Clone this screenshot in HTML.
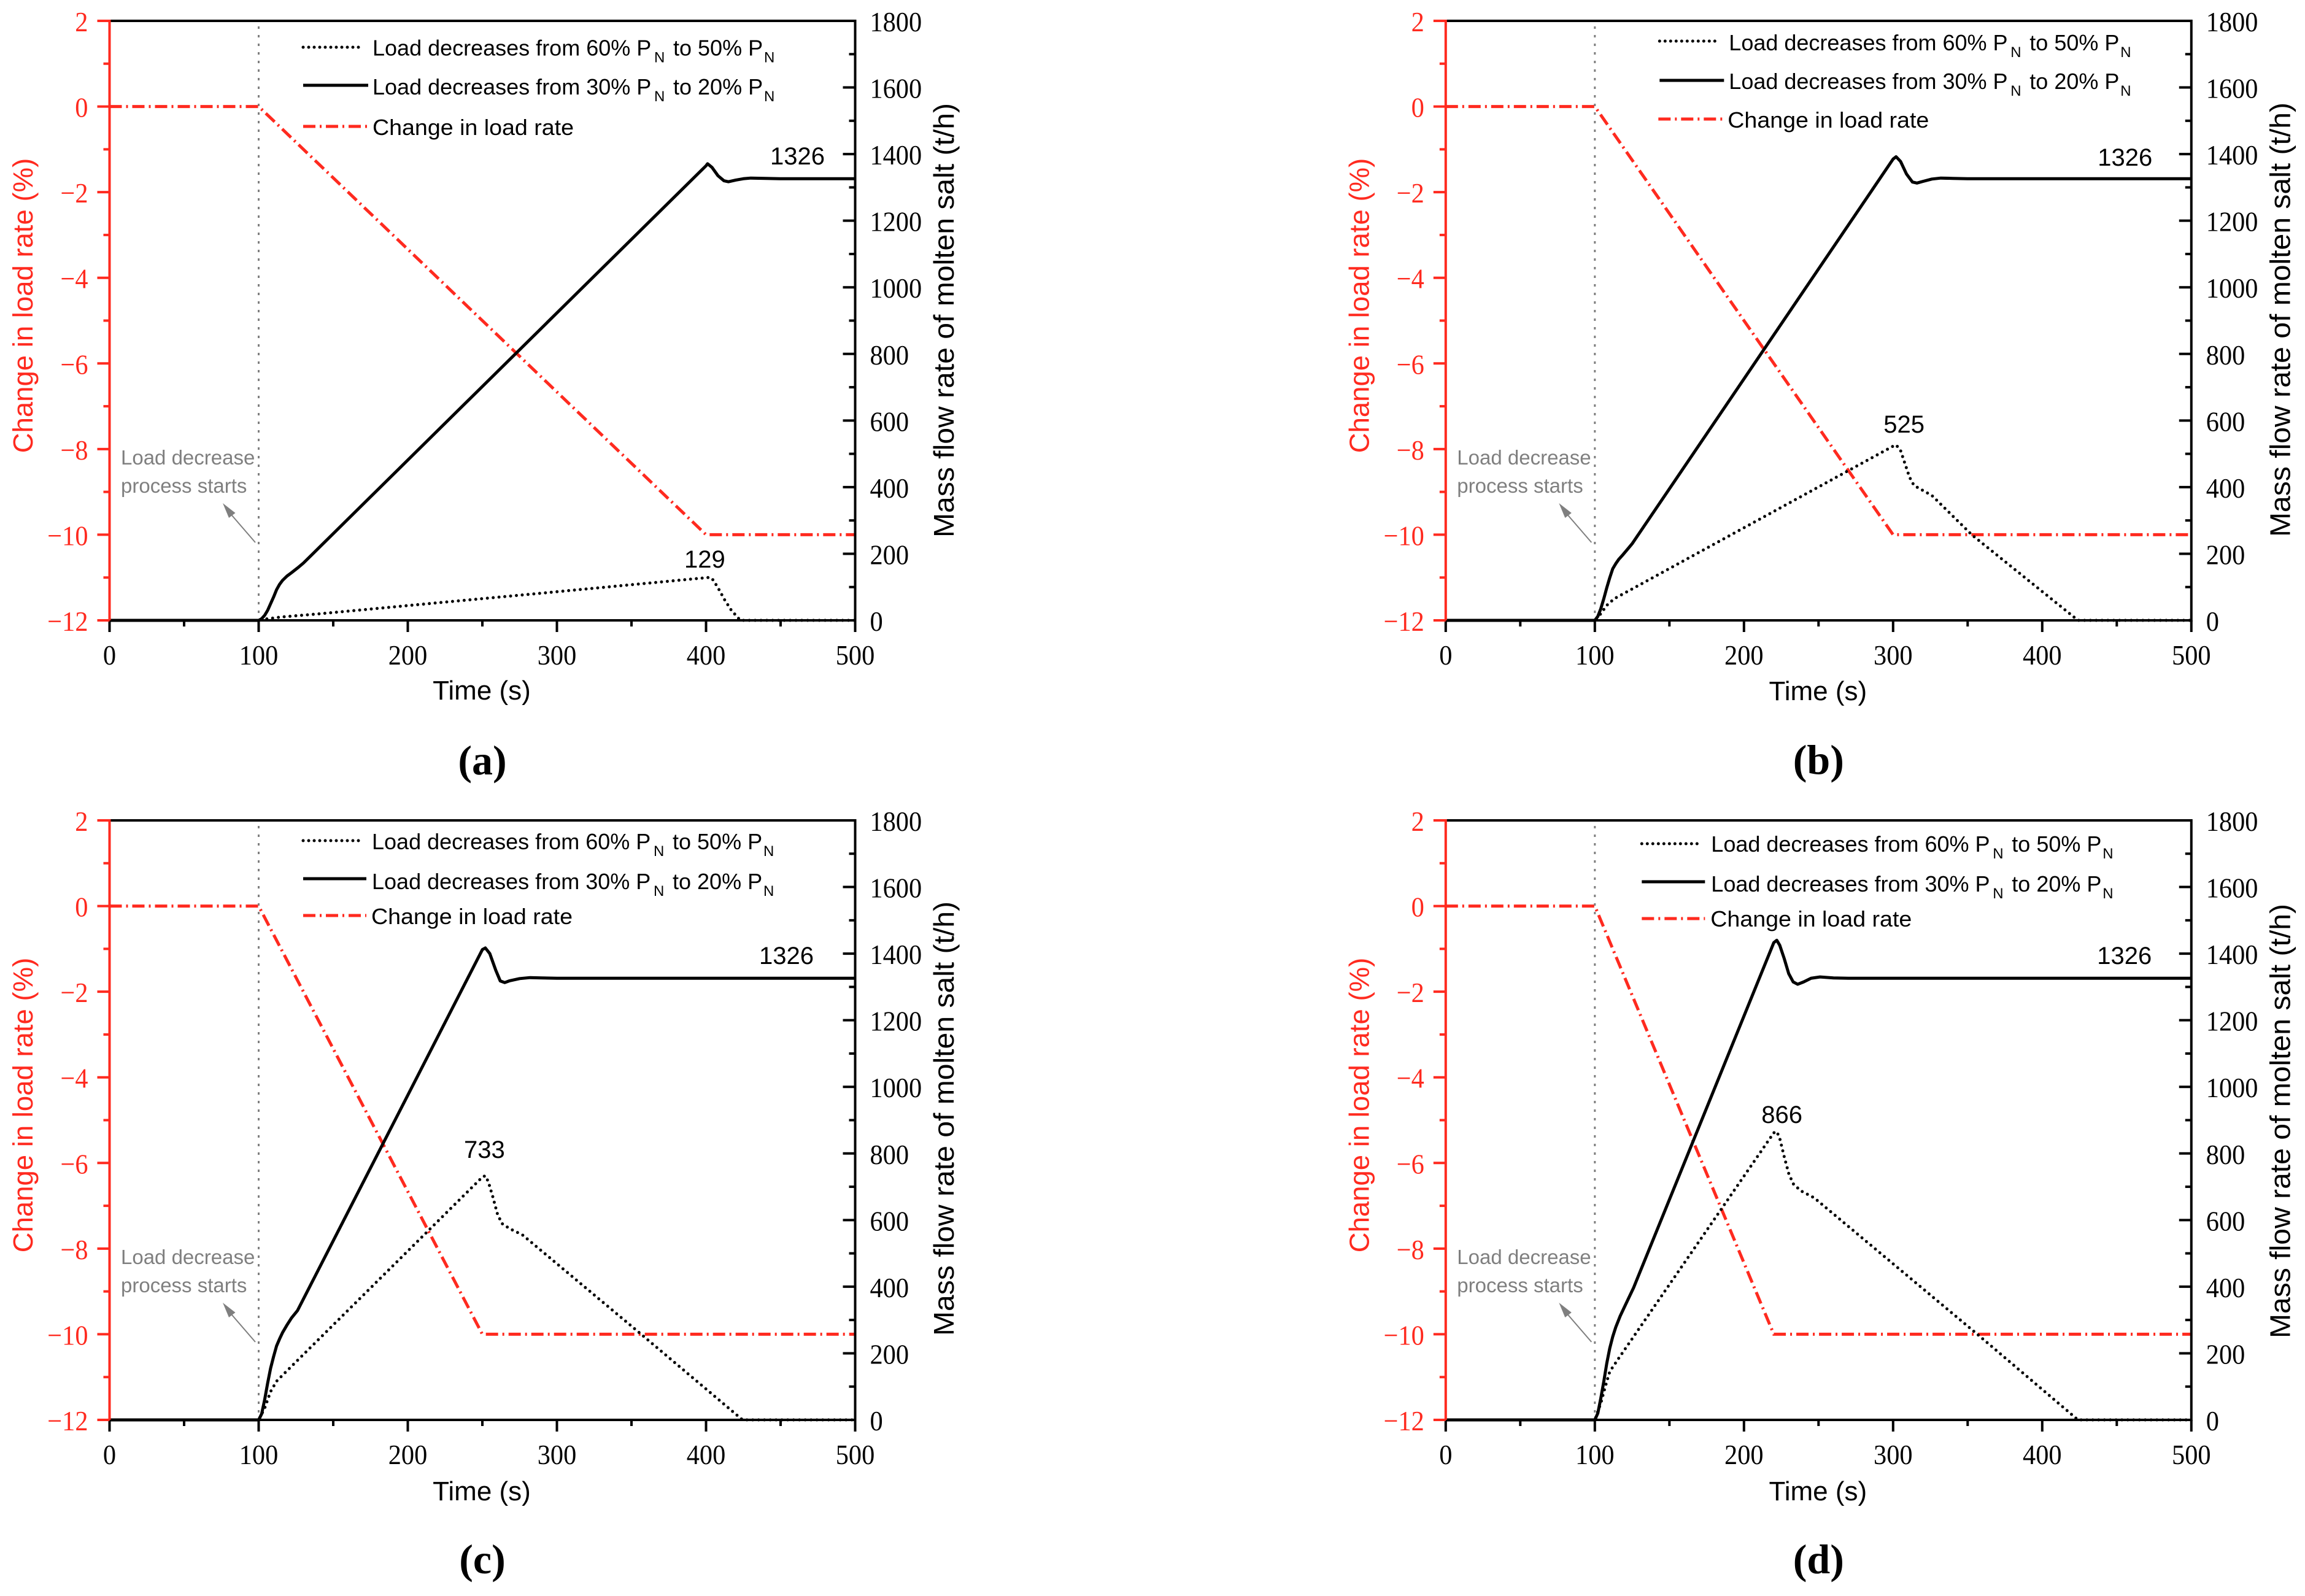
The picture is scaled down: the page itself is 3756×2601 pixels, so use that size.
<!DOCTYPE html>
<html lang="en">
<head>
<meta charset="utf-8">
<title>Load decrease charts</title>
<style>
html,body{margin:0;padding:0;background:#fff;width:3756px;height:2601px;overflow:hidden}
svg{display:block}
.leg{font:36px "Liberation Sans",sans-serif;fill:#000}
.sub{font-size:24px}
.val{font:40px "Liberation Sans",sans-serif;fill:#000}
.note{font:33px "Liberation Sans",sans-serif;fill:#7f7f7f}
.xt{font:44px "Liberation Sans",sans-serif;fill:#000;text-anchor:middle}
.yl{font:45.5px "Liberation Sans",sans-serif;fill:#ff2a1f;text-anchor:middle}
.yr{font:46px "Liberation Sans",sans-serif;fill:#000;text-anchor:middle}
.cap{font:bold 68px "Liberation Serif",serif;fill:#000;text-anchor:middle}
.tick{font:46px "Liberation Serif",serif}
</style>
</head>
<body>
<svg id="figure" xmlns="http://www.w3.org/2000/svg" width="3756" height="2601" viewBox="0 0 3756 2601">
<rect width="3756" height="2601" fill="#fff"/>

<g id="panel-a" transform="translate(0,0)">
  <g id="plot-a"></g>
  <line x1="494" x2="593" y1="77" y2="77" stroke="#000" stroke-width="5" stroke-linecap="round" stroke-dasharray="0 9"/>
  <line x1="494" x2="600" y1="139" y2="139" stroke="#000" stroke-width="5"/>
  <line x1="494" x2="600" y1="206" y2="206" stroke="#ff2a1f" stroke-width="5" stroke-dasharray="20 7 3 7"/>
  <g transform="translate(607,90.7)"><text class="leg"><tspan>Load decreases from 60% P</tspan><tspan class="sub" x="459" dy="11">N</tspan><tspan x="490" dy="-11">to 50% P</tspan><tspan class="sub" x="638" dy="11">N</tspan></text></g>
  <g transform="translate(607,154)"><text class="leg"><tspan>Load decreases from 30% P</tspan><tspan class="sub" x="459" dy="11">N</tspan><tspan x="490" dy="-11">to 20% P</tspan><tspan class="sub" x="638" dy="11">N</tspan></text></g>
  <text class="leg" x="607" y="220" textLength="328" lengthAdjust="spacingAndGlyphs">Change in load rate</text>
  <text class="val" x="1255" y="268">1326</text>
  <text class="val" x="1115" y="925">129</text>
  <text class="note" x="197" y="757">Load decrease</text>
  <text class="note" x="197" y="803">process starts</text>
  <line x1="416" y1="884" x2="378" y2="840" stroke="#7f7f7f" stroke-width="2"/>
  <polygon points="363,820 373,844 383.5,836" fill="#7f7f7f"/>
  <text class="xt" x="785" y="1140">Time (s)</text>
  <text class="yl" transform="translate(53,498) rotate(-90)">Change in load rate (%)</text>
  <text class="yr" textLength="708" lengthAdjust="spacingAndGlyphs" transform="translate(1554,522) rotate(-90)">Mass flow rate of molten salt (t/h)</text>
  <text class="cap" x="786" y="1262">(a)</text>
</g>

<g id="panel-b" transform="translate(2177.3,0)">
  <g id="plot-b"></g>
  <line x1="527" x2="626" y1="67" y2="67" stroke="#000" stroke-width="5" stroke-linecap="round" stroke-dasharray="0 9"/>
  <line x1="527" x2="632" y1="131" y2="131" stroke="#000" stroke-width="5"/>
  <line x1="525" x2="630" y1="194" y2="194" stroke="#ff2a1f" stroke-width="5" stroke-dasharray="20 7 3 7"/>
  <g transform="translate(640,82)"><text class="leg"><tspan>Load decreases from 60% P</tspan><tspan class="sub" x="459" dy="11">N</tspan><tspan x="490" dy="-11">to 50% P</tspan><tspan class="sub" x="638" dy="11">N</tspan></text></g>
  <g transform="translate(640,145)"><text class="leg"><tspan>Load decreases from 30% P</tspan><tspan class="sub" x="459" dy="11">N</tspan><tspan x="490" dy="-11">to 20% P</tspan><tspan class="sub" x="638" dy="11">N</tspan></text></g>
  <text class="leg" x="638" y="208" textLength="328" lengthAdjust="spacingAndGlyphs">Change in load rate</text>
  <text class="val" x="1241" y="270">1326</text>
  <text class="val" x="892" y="705">525</text>
  <text class="note" x="197" y="757">Load decrease</text>
  <text class="note" x="197" y="803">process starts</text>
  <line x1="416" y1="884" x2="378" y2="840" stroke="#7f7f7f" stroke-width="2"/>
  <polygon points="363,820 373,844 383.5,836" fill="#7f7f7f"/>
  <text class="xt" x="785" y="1141">Time (s)</text>
  <text class="yl" transform="translate(53,498) rotate(-90)">Change in load rate (%)</text>
  <text class="yr" textLength="708" lengthAdjust="spacingAndGlyphs" transform="translate(1554,521) rotate(-90)">Mass flow rate of molten salt (t/h)</text>
  <text class="cap" x="786" y="1261">(b)</text>
</g>

<g id="panel-c" transform="translate(0,1303)">
  <g id="plot-c"></g>
  <line x1="494" x2="593" y1="67" y2="67" stroke="#000" stroke-width="5" stroke-linecap="round" stroke-dasharray="0 9"/>
  <line x1="494" x2="597" y1="129" y2="129" stroke="#000" stroke-width="5"/>
  <line x1="494" x2="597" y1="189" y2="189" stroke="#ff2a1f" stroke-width="5" stroke-dasharray="20 7 3 7"/>
  <g transform="translate(606,81)"><text class="leg"><tspan>Load decreases from 60% P</tspan><tspan class="sub" x="459" dy="11">N</tspan><tspan x="490" dy="-11">to 50% P</tspan><tspan class="sub" x="638" dy="11">N</tspan></text></g>
  <g transform="translate(606,146)"><text class="leg"><tspan>Load decreases from 30% P</tspan><tspan class="sub" x="459" dy="11">N</tspan><tspan x="490" dy="-11">to 20% P</tspan><tspan class="sub" x="638" dy="11">N</tspan></text></g>
  <text class="leg" x="605" y="203" textLength="328" lengthAdjust="spacingAndGlyphs">Change in load rate</text>
  <text class="val" x="1237" y="268">1326</text>
  <text class="val" x="756" y="584">733</text>
  <text class="note" x="197" y="757">Load decrease</text>
  <text class="note" x="197" y="803">process starts</text>
  <line x1="416" y1="884" x2="378" y2="840" stroke="#7f7f7f" stroke-width="2"/>
  <polygon points="363,820 373,844 383.5,836" fill="#7f7f7f"/>
  <text class="xt" x="785" y="1142">Time (s)</text>
  <text class="yl" transform="translate(53,498) rotate(-90)">Change in load rate (%)</text>
  <text class="yr" textLength="708" lengthAdjust="spacingAndGlyphs" transform="translate(1554,520) rotate(-90)">Mass flow rate of molten salt (t/h)</text>
  <text class="cap" x="786" y="1261">(c)</text>
</g>

<g id="panel-d" transform="translate(2177.3,1303)">
  <g id="plot-d"></g>
  <line x1="498" x2="597" y1="72" y2="72" stroke="#000" stroke-width="5" stroke-linecap="round" stroke-dasharray="0 9"/>
  <line x1="498" x2="601" y1="134" y2="134" stroke="#000" stroke-width="5"/>
  <line x1="498" x2="601" y1="194" y2="194" stroke="#ff2a1f" stroke-width="5" stroke-dasharray="20 7 3 7"/>
  <g transform="translate(611,85)"><text class="leg"><tspan>Load decreases from 60% P</tspan><tspan class="sub" x="459" dy="11">N</tspan><tspan x="490" dy="-11">to 50% P</tspan><tspan class="sub" x="638" dy="11">N</tspan></text></g>
  <g transform="translate(611,150)"><text class="leg"><tspan>Load decreases from 30% P</tspan><tspan class="sub" x="459" dy="11">N</tspan><tspan x="490" dy="-11">to 20% P</tspan><tspan class="sub" x="638" dy="11">N</tspan></text></g>
  <text class="leg" x="610" y="207" textLength="328" lengthAdjust="spacingAndGlyphs">Change in load rate</text>
  <text class="val" x="1240" y="268">1326</text>
  <text class="val" x="693" y="527">866</text>
  <text class="note" x="197" y="757">Load decrease</text>
  <text class="note" x="197" y="803">process starts</text>
  <line x1="416" y1="884" x2="378" y2="840" stroke="#7f7f7f" stroke-width="2"/>
  <polygon points="363,820 373,844 383.5,836" fill="#7f7f7f"/>
  <text class="xt" x="785" y="1142">Time (s)</text>
  <text class="yl" transform="translate(53,498) rotate(-90)">Change in load rate (%)</text>
  <text class="yr" textLength="708" lengthAdjust="spacingAndGlyphs" transform="translate(1554,524) rotate(-90)">Mass flow rate of molten salt (t/h)</text>
  <text class="cap" x="786" y="1261">(d)</text>
</g>
</svg>

<script>
// Axis tick values and labels
const xMajorTicks = [0, 100, 200, 300, 400, 500];
const xMinorTicks = [50, 150, 250, 350, 450];
const leftMajorTicks = [2, 0, -2, -4, -6, -8, -10, -12];
const leftMinorTicks = [1, -1, -3, -5, -7, -9, -11];
const rightMajorTicks = [0, 200, 400, 600, 800, 1000, 1200, 1400, 1600, 1800];
const rightMinorTicks = [100, 300, 500, 700, 900, 1100, 1300, 1500, 1700];
const loadStartTime = [100];

// Panel (a)
const timeSolidA = [0, 100, 102, 104, 106, 108, 110, 112, 114, 116, 119, 122, 126, 130, 400, 401, 404, 408, 412, 415, 420, 425, 430, 440, 450, 500];
const flowSolidA = [0, 0, 5, 15, 30, 50, 70, 92, 108, 120, 133, 143, 157, 172, 1365, 1371, 1360, 1335, 1320, 1317, 1322, 1326, 1328, 1327, 1326, 1326];
const timeDottedA = [0, 100, 105, 115, 139, 281, 400, 403, 405, 409, 412, 417, 423, 500];
const flowDottedA = [0, 0, 4, 10, 19, 78, 128, 129, 120, 90, 65, 30, 0, 0];
const loadTimeA = [0, 100, 400, 500];
const loadRateA = [0, 0, -10, -10];

// Panel (b)
const timeSolidB = [0, 100, 102, 104, 106, 108, 110, 112, 114, 116, 119, 122, 125, 300, 302, 305, 309, 313, 316, 320, 326, 332, 340, 350, 500];
const flowSolidB = [0, 0, 12, 35, 65, 98, 128, 155, 170, 183, 198, 214, 230, 1385, 1392, 1378, 1340, 1316, 1313, 1318, 1325, 1328, 1327, 1326, 1326];
const timeDottedB = [0, 100, 104, 108, 113, 120, 300, 302, 305, 308, 311, 314, 320, 326, 353, 424, 500];
const flowDottedB = [0, 0, 20, 45, 65, 82, 523, 527, 510, 470, 430, 405, 390, 375, 256, 0, 0];
const loadTimeB = [0, 100, 300, 500];
const loadRateB = [0, 0, -10, -10];

// Panel (c)
const timeSolidC = [0, 100, 102, 104, 106, 108, 110, 112, 114, 116, 119, 122, 126, 250, 252, 255, 259, 262, 265, 268, 275, 282, 290, 300, 500];
const flowSolidC = [0, 0, 18, 60, 110, 155, 190, 222, 243, 262, 285, 306, 328, 1412, 1417, 1400, 1350, 1318, 1313, 1318, 1325, 1328, 1327, 1326, 1326];
const timeDottedC = [0, 100, 104, 108, 112, 118, 250, 252, 254, 257, 260, 263, 268, 277, 356, 424.5, 500];
const flowDottedC = [0, 0, 35, 85, 116, 143, 729, 733, 715, 670, 620, 590, 575, 555, 259, 0, 0];
const loadTimeC = [0, 100, 250, 500];
const loadRateC = [0, 0, -10, -10];

// Panel (d)
const timeSolidD = [0, 100, 102, 104, 106, 108, 110, 112, 114, 117, 121, 126, 220, 222, 224, 227, 230, 233, 236, 240, 245, 251, 260, 270, 500];
const flowSolidD = [0, 0, 20, 65, 115, 170, 215, 250, 278, 312, 350, 397, 1433, 1440, 1425, 1385, 1340, 1315, 1308, 1315, 1326, 1330, 1327, 1326, 1326];
const timeDottedD = [0, 100, 104, 107, 110, 116, 220, 222, 224, 227, 230, 233, 238, 247, 356, 424, 500];
const flowDottedD = [0, 0, 50, 100, 145, 185, 862, 866, 845, 790, 740, 709, 688, 667, 259, 0, 0];
const loadTimeD = [0, 100, 220, 500];
const loadRateD = [0, 0, -10, -10];

const SVG_NS = 'http://www.w3.org/2000/svg';
const RED = '#ff2a1f';
const plotLeft = 178.5, plotRight = 1393.5, plotTop = 34, plotBottom = 1011;

function sx(t) { return plotLeft + (t / 500) * (plotRight - plotLeft); }
function syLeft(v) { return plotTop + ((2 - v) / 14) * (plotBottom - plotTop); }
function syRight(v) { return plotBottom - (v / 1800) * (plotBottom - plotTop); }

function svgEl(tag, attrs, parent) {
  const el = document.createElementNS(SVG_NS, tag);
  Object.keys(attrs).forEach(function (k) { el.setAttribute(k, attrs[k]); });
  parent.appendChild(el);
  return el;
}

function linePath(times, values, yFn) {
  return times.map(function (t, i) {
    return (i ? 'L' : 'M') + sx(t).toFixed(2) + ' ' + yFn(values[i]).toFixed(2);
  }).join(' ');
}

function tickText(parent, str, x, y, anchor, fill) {
  const el = svgEl('text', { x: x, y: y, 'text-anchor': anchor, fill: fill, class: 'tick' }, parent);
  
  
  el.textContent = str;
  const len = el.getComputedTextLength();
  el.setAttribute('textLength', (len * 0.92).toFixed(1));
  el.setAttribute('lengthAdjust', 'spacingAndGlyphs');
  return el;
}

function drawPanel(id, timeSolid, flowSolid, timeDotted, flowDotted, loadTime, loadRate) {
  const g = document.getElementById('plot-' + id);

  const guide = svgEl('line', {
    x1: sx(loadStartTime[0]), x2: sx(loadStartTime[0]), y1: plotTop + 9, y2: plotBottom,
    stroke: '#808080', 'stroke-width': 3, 'stroke-dasharray': '4 10'
  }, g);
  
  

  const load = svgEl('path', {
    d: linePath(loadTime, loadRate, syLeft), fill: 'none', stroke: RED,
    'stroke-width': 5, 'stroke-dasharray': '20 7 3 7'
  }, g);
  
  

  const dotted = svgEl('path', {
    d: linePath(timeDotted, flowDotted, syRight), fill: 'none', stroke: '#000',
    'stroke-width': 5, 'stroke-linecap': 'round', 'stroke-dasharray': '0 9.5'
  }, g);
  
  

  const solid = svgEl('path', {
    d: linePath(timeSolid, flowSolid, syRight), fill: 'none', stroke: '#000',
    'stroke-width': 5, 'stroke-linejoin': 'round'
  }, g);
  
  

  const top = svgEl('line', { x1: plotLeft, x2: plotRight, y1: plotTop, y2: plotTop, stroke: '#000', 'stroke-width': 4 }, g);
  
  

  const bottom = svgEl('line', { x1: plotLeft, x2: plotRight, y1: plotBottom, y2: plotBottom, stroke: '#000', 'stroke-width': 4 }, g);
  
  

  const right = svgEl('line', { x1: plotRight, x2: plotRight, y1: plotTop - 2, y2: plotBottom + 2, stroke: '#000', 'stroke-width': 4 }, g);
  
  

  const left = svgEl('line', { x1: plotLeft, x2: plotLeft, y1: plotTop - 2, y2: plotBottom, stroke: RED, 'stroke-width': 4 }, g);
  
  

  xMajorTicks.forEach(function (t) {
    const m = svgEl('line', { x1: sx(t), x2: sx(t), y1: plotBottom, y2: plotBottom + 19, stroke: '#000', 'stroke-width': 4 }, g);
    
    
    tickText(g, String(t), sx(t), plotBottom + 72, 'middle', '#000');
  });
  xMinorTicks.forEach(function (t) {
    const m = svgEl('line', { x1: sx(t), x2: sx(t), y1: plotBottom, y2: plotBottom + 10, stroke: '#000', 'stroke-width': 4 }, g);
    
    
  });
  leftMajorTicks.forEach(function (v) {
    const m = svgEl('line', { x1: plotLeft - 20, x2: plotLeft, y1: syLeft(v), y2: syLeft(v), stroke: RED, 'stroke-width': 4 }, g);
    
    
    tickText(g, String(v).replace('-', '\u2212'), plotLeft - 35, syLeft(v) + 17, 'end', RED);
  });
  leftMinorTicks.forEach(function (v) {
    const m = svgEl('line', { x1: plotLeft - 10, x2: plotLeft, y1: syLeft(v), y2: syLeft(v), stroke: RED, 'stroke-width': 4 }, g);
    
    
  });
  rightMajorTicks.forEach(function (v) {
    const m = svgEl('line', { x1: plotRight - 20, x2: plotRight, y1: syRight(v), y2: syRight(v), stroke: '#000', 'stroke-width': 4 }, g);
    
    
    tickText(g, String(v), plotRight + 24, syRight(v) + 17, 'start', '#000');
  });
  rightMinorTicks.forEach(function (v) {
    const m = svgEl('line', { x1: plotRight - 10, x2: plotRight, y1: syRight(v), y2: syRight(v), stroke: '#000', 'stroke-width': 4 }, g);
    
    
  });
}

drawPanel('a', timeSolidA, flowSolidA, timeDottedA, flowDottedA, loadTimeA, loadRateA);
drawPanel('b', timeSolidB, flowSolidB, timeDottedB, flowDottedB, loadTimeB, loadRateB);
drawPanel('c', timeSolidC, flowSolidC, timeDottedC, flowDottedC, loadTimeC, loadRateC);
drawPanel('d', timeSolidD, flowSolidD, timeDottedD, flowDottedD, loadTimeD, loadRateD);
</script>
</body>
</html>
